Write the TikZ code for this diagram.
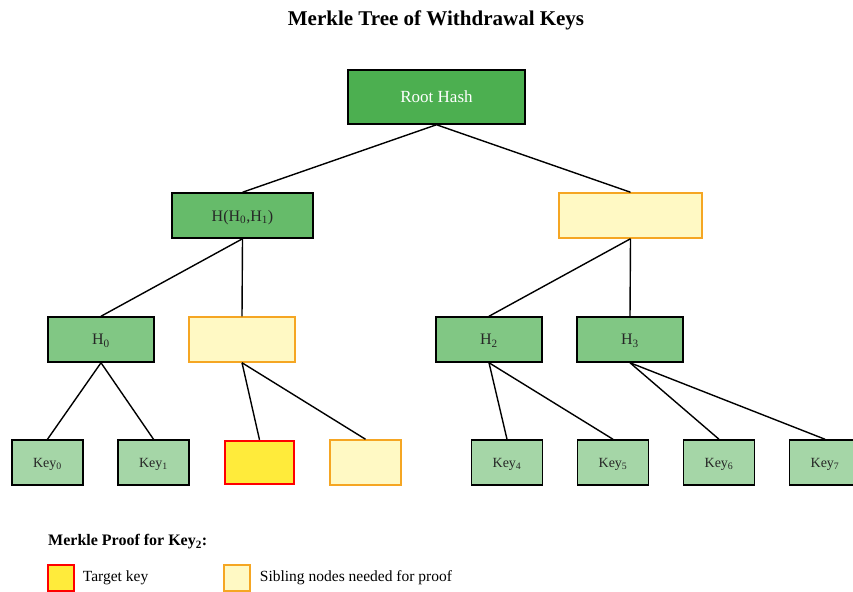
\documentclass[tikz,border=0pt]{standalone}
\usepackage{fontspec}
\setmainfont{Liberation Serif}
\usepackage{xcolor}
\usepackage{tikz}
\usetikzlibrary{positioning}

\definecolor{rootgreen}{HTML}{4CAF50}
\definecolor{midgreen}{HTML}{66BB6A}
\definecolor{lowgreen}{HTML}{81C784}
\definecolor{leafgreen}{HTML}{A5D6A7}
\definecolor{sibfill}{HTML}{FFF9C4}
\definecolor{sibdraw}{HTML}{F5A623}
\definecolor{targetfill}{HTML}{FFEB3B}

\begin{document}
\begin{tikzpicture}[x=1pt, y=-1pt,
    hbox/.style={draw=black, line width=1.5pt, text=black!85, inner sep=0pt, text depth=-2pt},
    sibling/.style={draw=sibdraw, fill=sibfill, line width=1.5pt, inner sep=0pt},
    leaf/.style={hbox, fill=leafgreen, minimum width=71pt, minimum height=45pt, font=\fontsize{14}{16}\selectfont},
    edge/.style={line width=1.4pt}]
\useasboundingbox (0,0) rectangle (853,591);

% Title
\node[font=\bfseries\fontsize{21}{24}\selectfont] (title) at (436,20) {Merkle Tree of Withdrawal Keys};

% Root
\node[hbox, fill=rootgreen, text=white, minimum width=177pt, minimum height=54pt,
      font=\fontsize{17}{20}\selectfont] (root) at (436.5,97) {Root Hash};

% Level 1
\node[hbox, fill=midgreen, minimum width=141pt, minimum height=45pt,
      font=\fontsize{16}{19}\selectfont] (h01) at (242.5,215.5) {H(H\textsubscript{0},H\textsubscript{1})};
\node[sibling, minimum width=143pt, minimum height=45pt] (h23) at (630.5,215.5) {};

% Level 2
\node[hbox, fill=lowgreen, minimum width=106pt, minimum height=45pt,
      font=\fontsize{16}{19}\selectfont] (h0) at (101,339.5) {H\textsubscript{0}};
\node[sibling, minimum width=106pt, minimum height=45pt] (h1) at (242,339.5) {};
\node[hbox, fill=lowgreen, minimum width=106pt, minimum height=45pt,
      font=\fontsize{16}{19}\selectfont] (h2) at (489,339.5) {H\textsubscript{2}};
\node[hbox, fill=lowgreen, minimum width=106pt, minimum height=45pt,
      font=\fontsize{16}{19}\selectfont] (h3) at (630,339.5) {H\textsubscript{3}};

% Leaves
\foreach \i/\x in {0/47.5, 1/153.5, 4/507, 5/613, 6/719, 7/825}
    \node[leaf] (key\i) at (\x,462.5) {Key\textsubscript{\i}};
\node[draw=red, fill=targetfill, line width=2.5pt, minimum width=69pt, minimum height=43pt] (key2) at (259.5,462.5) {};
\node[sibling, minimum width=71pt, minimum height=45pt] (key3) at (365.5,462.5) {};

% Edges
\draw[edge] (root.south) -- (h01.north);
\draw[edge] (root.south) -- (h23.north);
\draw[edge] (h01.south) -- (h0.north);
\draw[edge] (h01.south) -- (h1.north);
\draw[edge] (h23.south) -- (h2.north);
\draw[edge] (h23.south) -- (h3.north);
\draw[edge] (h0.south) -- (key0.north);
\draw[edge] (h0.south) -- (key1.north);
\draw[edge] (h1.south) -- (key2.north);
\draw[edge] (h1.south) -- (key3.north);
\draw[edge] (h2.south) -- (key4.north);
\draw[edge] (h2.south) -- (key5.north);
\draw[edge] (h3.south) -- (key6.north);
\draw[edge] (h3.south) -- (key7.north);

% Legend
\node[anchor=west, inner sep=0pt, font=\bfseries\fontsize{16}{19}\selectfont] (legtitle) at (48,542) {Merkle Proof for Key\textsubscript{2}:};
\node[draw=red, fill=targetfill, line width=1.5pt, minimum size=26pt, inner sep=0pt] (legtarget) at (61,578) {};
\node[right=8pt of legtarget, font=\fontsize{15.5}{18}\selectfont, inner sep=0pt] (legtargettext) {Target key};
\node[sibling, minimum size=26pt] (legsib) at (237,578) {};
\node[right=9pt of legsib, font=\fontsize{15.5}{18}\selectfont, inner sep=0pt] (legsibtext) {Sibling nodes needed for proof};

\end{tikzpicture}
\end{document}
